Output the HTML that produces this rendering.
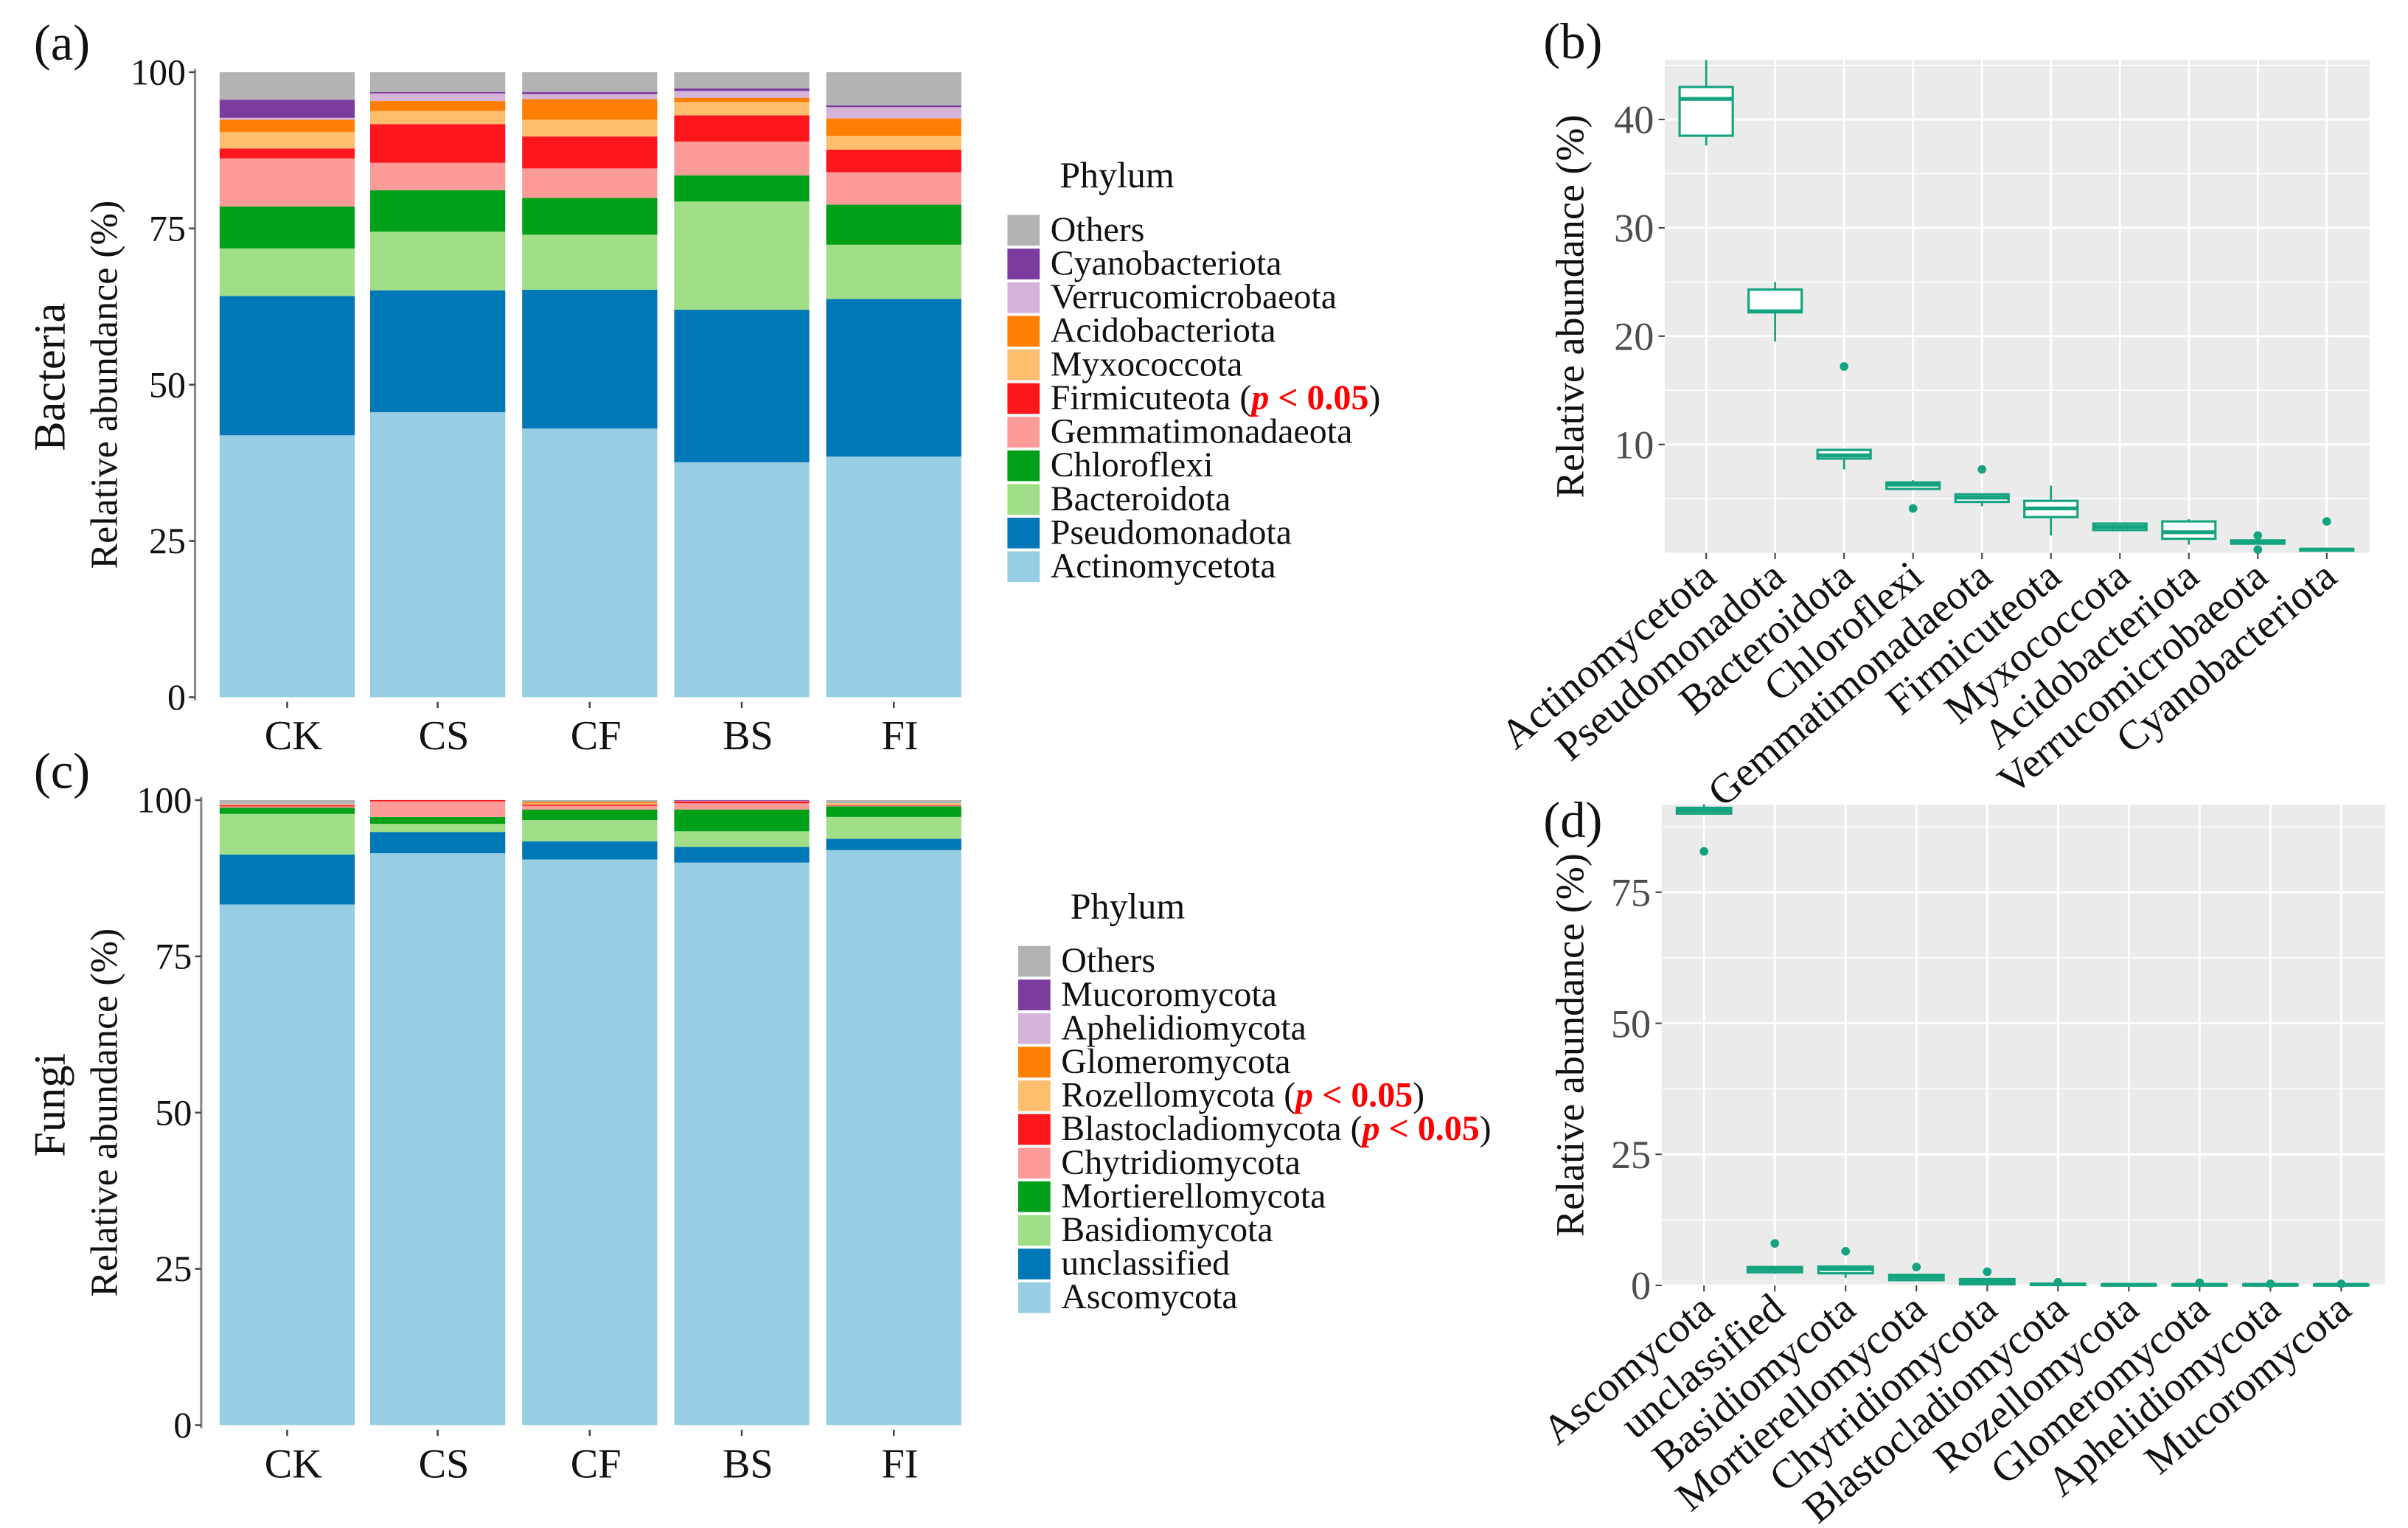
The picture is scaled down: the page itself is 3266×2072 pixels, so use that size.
<!DOCTYPE html>
<html><head><meta charset="utf-8"><style>
html,body{margin:0;padding:0;background:#fff}
svg{display:block;font-family:"Liberation Serif",serif}
</style></head><body>
<svg id="fig" xmlns="http://www.w3.org/2000/svg" width="3266" height="2072" viewBox="0 0 1568 995" preserveAspectRatio="none"></svg>
<script>
const samples = ["CK","CS","CF","BS","FI"];
const bactPhyla = ["Actinomycetota","Pseudomonadota","Bacteroidota","Chloroflexi","Gemmatimonadaeota","Firmicuteota","Myxococcota","Acidobacteriota","Verrucomicrobaeota","Cyanobacteriota","Others"];
const bactColors = ["#98CEE3","#0077B6","#A0DF87","#01A019","#FD9B99","#FD171C","#FEBE6E","#FE7F01","#D6B4DA","#7B3B9F","#B3B3B3"];
const bactCK = [41.9,22.3,7.6,6.7,7.7,1.6,2.6,2.0,0.3,2.9,4.4];
const bactCS = [45.6,19.5,9.4,6.6,4.4,6.2,2.1,1.6,1.2,0.2,3.2];
const bactCF = [43.0,22.2,8.8,5.9,4.7,5.1,2.7,3.3,0.8,0.3,3.2];
const bactBS = [37.6,24.4,17.3,4.2,5.4,4.2,2.1,0.7,1.1,0.4,2.6];
const bactFI = [38.5,25.2,8.7,6.4,5.2,3.6,2.2,2.8,1.8,0.3,5.3];
const fungPhyla = ["Ascomycota","unclassified","Basidiomycota","Mortierellomycota","Chytridiomycota","Blastocladiomycota","Rozellomycota","Glomeromycota","Aphelidiomycota","Mucoromycota","Others"];
const fungCK = [83.3,8.0,6.5,1.0,0.2,0.2,0.1,0.0,0.0,0.0,0.7];
const fungCS = [91.5,3.4,1.3,1.1,2.5,0.2,0.0,0.0,0.0,0.0,0.0];
const fungCF = [90.5,2.9,3.4,1.7,0.6,0.2,0.2,0.2,0.0,0.0,0.3];
const fungBS = [90.0,2.5,2.5,3.5,1.0,0.3,0.0,0.0,0.1,0.1,0.0];
const fungFI = [92.0,1.8,3.5,1.7,0.1,0.1,0.3,0.0,0.0,0.0,0.5];
const stackTicks = [0,25,50,75,100];
// box stats: [lowWhisker, Q1, median, Q3, highWhisker]
const bBoxLabels = ["Actinomycetota","Pseudomonadota","Bacteroidota","Chloroflexi","Gemmatimonadaeota","Firmicuteota","Myxococcota","Acidobacteriota","Verrucomicrobaeota","Cyanobacteriota"];
const bLow = [37.6,19.5,7.7,5.9,4.3,1.6,2.1,0.75,0.85,0.2];
const bQ1 = [38.5,22.2,8.7,5.9,4.7,3.3,2.1,1.3,0.85,0.2];
const bMed = [41.9,22.3,9.0,6.3,5.1,4.1,2.4,1.9,1.0,0.3];
const bQ3 = [43.0,24.3,9.5,6.5,5.4,4.8,2.7,2.9,1.15,0.35];
const bHigh = [45.5,25.0,9.5,6.7,5.4,6.2,2.7,3.1,1.15,0.35];
const bOutIdx = [2,3,4,8,8,9];
const bOutVal = [17.2,4.1,7.7,1.6,0.3,2.9];
const bTicks = [10,20,30,40];
const dBoxLabels = ["Ascomycota","unclassified","Basidiomycota","Mortierellomycota","Chytridiomycota","Blastocladiomycota","Rozellomycota","Glomeromycota","Aphelidiomycota","Mucoromycota"];
const dLow = [90.0,2.2,1.4,1.0,0.2,0.1,0.05,0.05,0.05,0.05];
const dQ1 = [90.0,2.5,2.3,1.0,0.2,0.1,0.05,0.05,0.05,0.05];
const dMed = [90.6,3.1,3.1,1.6,0.7,0.2,0.1,0.1,0.1,0.1];
const dQ3 = [91.1,3.5,3.6,2.0,1.2,0.3,0.15,0.15,0.15,0.15];
const dHigh = [91.8,3.6,3.6,2.0,1.2,0.3,0.15,0.15,0.15,0.15];
const dOutIdx = [0,1,2,3,4,5,7,8,9];
const dOutVal = [82.8,8.0,6.5,3.5,2.6,0.6,0.5,0.3,0.3];
const dTicks = [0,25,50,75];

const NS="http://www.w3.org/2000/svg";
const svg=document.getElementById('fig');
function mk(tag,attrs,parent,text){const e=document.createElementNS(NS,tag);for(const k in attrs)e.setAttribute(k,attrs[k]);if(text!==undefined)e.textContent=text;(parent||svg).appendChild(e);return e;}

function stacked(yTop,yBot,data,colors,names,axisX,legendX,legendY,titleTxt,panelLbl,sigSet,idp){
  const g=mk('g',{});
  
  
  const ys=v=>yBot-(v/100)*(yBot-yTop);
  const barX=[143,241,340,439,538], bw=88;
  const ax=mk('line',{x1:axisX,x2:axisX,y1:yTop-2,y2:yBot+2,stroke:'#888','stroke-width':1.5},g);
  
  
  stackTicks.forEach(t=>{
    mk('line',{x1:axisX-4,x2:axisX,y1:ys(t),y2:ys(t),stroke:'#444','stroke-width':1.2},g);
    const tl=mk('text',{x:axisX-6,y:ys(t)+8,'text-anchor':'end','font-size':24,fill:'#111'},g,String(t));
    
    
  });
  samples.forEach((s,i)=>{
    let cum=0;
    data[i].forEach((v,j)=>{
      const r=mk('rect',{x:barX[i],y:ys(Math.min(100,cum+v)),width:bw,height:Math.max(0,ys(cum)-ys(Math.min(100,cum+v))),fill:colors[j]},g);
      
      
      cum+=v;
    });
    const cx=barX[i]+bw/2;
    mk('line',{x1:cx,x2:cx,y1:yBot+3,y2:yBot+7,stroke:'#444','stroke-width':1.2},g);
    const xl=mk('text',{x:cx+4,y:yBot+34,'text-anchor':'middle','font-size':27,fill:'#111'},g,s);
    
    
  });
  const yt=mk('text',{transform:`translate(76,${(yTop+yBot)/2}) rotate(-90)`,'text-anchor':'middle','font-size':25,fill:'#111'},g,'Relative abundance (%)');
  
  
  const tt=mk('text',{transform:`translate(42,${(yTop+yBot)/2-5}) rotate(-90)`,'text-anchor':'middle','font-size':29,fill:'#111'},g,titleTxt);
  
  
  const pl=mk('text',{x:22,y:yTop-8,'font-size':33,fill:'#111'},g,panelLbl);
  
  
  const lg=mk('g',{},g);
  
  
  const lt=mk('text',{x:legendX+34,y:legendY-28,'font-size':24,fill:'#111'},lg,'Phylum');
  
  
  for(let k=0;k<names.length;k++){
    const j=names.length-1-k;
    const y=legendY+k*21.9;
    const e=mk('g',{},lg);
    
    
    mk('rect',{x:legendX,y:y-10,width:21,height:20,fill:colors[j]},e);
    const t=mk('text',{x:legendX+28,y:y+7,'font-size':23,fill:'#111'},e,names[j]);
    if(sigSet.includes(names[j])){
      mk('tspan',{},t,' (');
      mk('tspan',{fill:'#f00','font-weight':'bold','font-style':'italic'},t,'p');
      mk('tspan',{fill:'#f00','font-weight':'bold'},t,' < 0.05');
      mk('tspan',{},t,')');
    }
  }
}
stacked(47,454,[bactCK,bactCS,bactCF,bactBS,bactFI],bactColors,bactPhyla,127,656,150,'Bacteria','(a)',['Firmicuteota'],'bacteria');
stacked(521,928,[fungCK,fungCS,fungCF,fungBS,fungFI],bactColors,fungPhyla,131,663,626,'Fungi','(c)',['Rozellomycota','Blastocladiomycota'],'fungi');

function boxplot(o){
  const g=mk('g',{});
  
  
  const ys=v=>o.y0-(v-o.vmin)/(o.vmax-o.vmin)*(o.y0-o.yTop);
  mk('rect',{x:o.x0,y:o.yTop,width:o.x1-o.x0,height:o.y0-o.yTop,fill:'#EBEBEB'},g);
  for(let t=o.minor;t<o.vmax;t+=o.minor*2){ if(t>o.vmin) mk('line',{x1:o.x0,x2:o.x1,y1:ys(t),y2:ys(t),stroke:'#fff','stroke-width':0.7},g);}
  o.ticks.forEach(t=>{
    mk('line',{x1:o.x0,x2:o.x1,y1:ys(t),y2:ys(t),stroke:'#fff','stroke-width':1.4},g);
    mk('line',{x1:o.x0-4,x2:o.x0,y1:ys(t),y2:ys(t),stroke:'#444','stroke-width':1},g);
    const tl=mk('text',{x:o.x0-7,y:ys(t)+9,'text-anchor':'end','font-size':26,fill:'#4d4d4d'},g,String(t));
    
    
  });
  const xs=i=>o.c0+i*o.step;
  o.labels.forEach((lab,i)=>{
    const x=xs(i);
    mk('line',{x1:x,x2:x,y1:o.yTop,y2:o.y0,stroke:'#fff','stroke-width':1.4},g);
    mk('line',{x1:x,x2:x,y1:o.y0,y2:o.y0+4,stroke:'#444','stroke-width':1},g);
    const bx=mk('g',{},g);
    
    
    const c='#14A37F', w=o.bw;
    mk('line',{x1:x,x2:x,y1:ys(o.high[i]),y2:ys(o.q3[i]),stroke:c,'stroke-width':1.3},bx);
    mk('line',{x1:x,x2:x,y1:ys(o.q1[i]),y2:ys(o.low[i]),stroke:c,'stroke-width':1.3},bx);
    mk('rect',{x:x-w/2,y:ys(o.q3[i]),width:w,height:Math.max(0.5,ys(o.q1[i])-ys(o.q3[i])),fill:'#fff',stroke:c,'stroke-width':1.5},bx);
    mk('line',{x1:x-w/2,x2:x+w/2,y1:ys(o.med[i]),y2:ys(o.med[i]),stroke:c,'stroke-width':2.5},bx);
    const xl=mk('text',{transform:`translate(${x+8},${o.y0+18}) rotate(-40)`,'text-anchor':'end','font-size':27,fill:'#111'},g,lab);
    
    
  });
  o.outIdx.forEach((idx,k)=>{
    const p=mk('circle',{cx:xs(idx),cy:ys(o.outVal[k]),r:2.8,fill:'#14A37F'},g);
    
    
  });
  const yt=mk('text',{transform:`translate(1031,${(o.yTop+o.y0)/2}) rotate(-90)`,'text-anchor':'middle','font-size':26,fill:'#111'},g,'Relative abundance (%)');
  
  
  const pl=mk('text',{x:1005,y:o.labelY,'font-size':33,fill:'#111'},g,o.panel);
  
  
}
boxplot({id:'bacteria-box',x0:1084,x1:1543,yTop:39,y0:360,vmin:0,vmax:45.5,ticks:bTicks,minor:5,c0:1111,step:44.9,bw:34.6,
  labels:bBoxLabels,low:bLow,q1:bQ1,med:bMed,q3:bQ3,high:bHigh,outIdx:bOutIdx,outVal:bOutVal,panel:'(b)',labelY:38});
boxplot({id:'fungi-box',x0:1082,x1:1553,yTop:524,y0:837,vmin:0,vmax:91.7,ticks:dTicks,minor:12.5,c0:1109.6,step:46.1,bw:35.4,
  labels:dBoxLabels,low:dLow,q1:dQ1,med:dMed,q3:dQ3,high:dHigh,outIdx:dOutIdx,outVal:dOutVal,panel:'(d)',labelY:545});
</script>
</body></html>
